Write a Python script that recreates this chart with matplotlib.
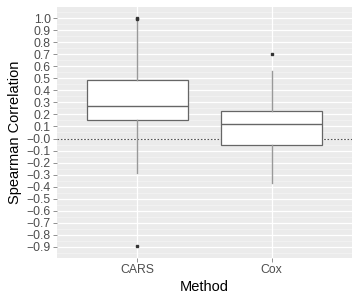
import numpy as np
import matplotlib.pyplot as plt

plt.rcParams['font.family'] = ['Liberation Sans', 'DejaVu Sans']

methods = ['CARS', 'Cox']
q1 = [0.151, -0.054]
median = [0.272, 0.120]
q3 = [0.483, 0.226]
whis_lo = [-0.289, -0.372]
whis_hi = [0.98, 0.558]
outliers = [[1.0, 0.997, -0.892], [0.704]]

yticks = np.round(np.arange(-0.9, 1.01, 0.1), 1)

fig = plt.figure(figsize=(3.6, 3.0), dpi=100)
ax = fig.add_axes([57 / 360, 42 / 300, 295 / 360, 251 / 300])
ax.set_facecolor('#EBEBEB')

# grid: major at ticks, minor in between
for y in yticks:
    ax.axhline(y, color='white', lw=0.9, zorder=0)
for y in yticks[:-1] + 0.05:
    ax.axhline(y, color='#F4F4F4', lw=0.5, zorder=0)
ax.axhline(1.05, color='#F4F4F4', lw=0.5, zorder=0)
ax.axhline(-0.95, color='#F4F4F4', lw=0.5, zorder=0)
for x in range(1, len(methods) + 1):
    ax.axvline(x, color='white', lw=0.9, zorder=0)

ax.axhline(0, color='#555555', lw=0.8, ls=(0, (1.5, 1.5)), zorder=1)

stats = []
for i, m in enumerate(methods):
    stats.append(dict(label=m, q1=q1[i], med=median[i], q3=q3[i],
                      whislo=whis_lo[i], whishi=whis_hi[i], fliers=outliers[i]))

ax.bxp(stats, positions=[1, 2], widths=0.75, patch_artist=True, showcaps=False,
       boxprops=dict(facecolor='white', edgecolor='#666666', lw=0.9),
       medianprops=dict(color='#666666', lw=1.0),
       whiskerprops=dict(color='#999999', lw=1.0),
       flierprops=dict(marker='s', markersize=1.6, markerfacecolor='#333333',
                       markeredgecolor='#333333'),
       zorder=2)

ax.set_xlim(0.4, 2.6)
ax.set_ylim(-0.995, 1.095)
ax.set_yticks(yticks)
ax.set_yticklabels([f'{v:.1f}'.replace('-', '\u2212') for v in yticks])
ax.set_xticks([1, 2])
ax.set_xticklabels(methods)

for s in ax.spines.values():
    s.set_visible(False)
ax.tick_params(axis='both', colors='#7F7F7F', labelcolor='#4D4D4D',
               labelsize=8.8, length=3, width=0.6, pad=1.5)
ax.set_xlabel('Method', fontsize=10.5, labelpad=3)
ax.set_ylabel('Spearman Correlation', fontsize=10.5, labelpad=3)

fig.savefig('out.png', dpi=100)
